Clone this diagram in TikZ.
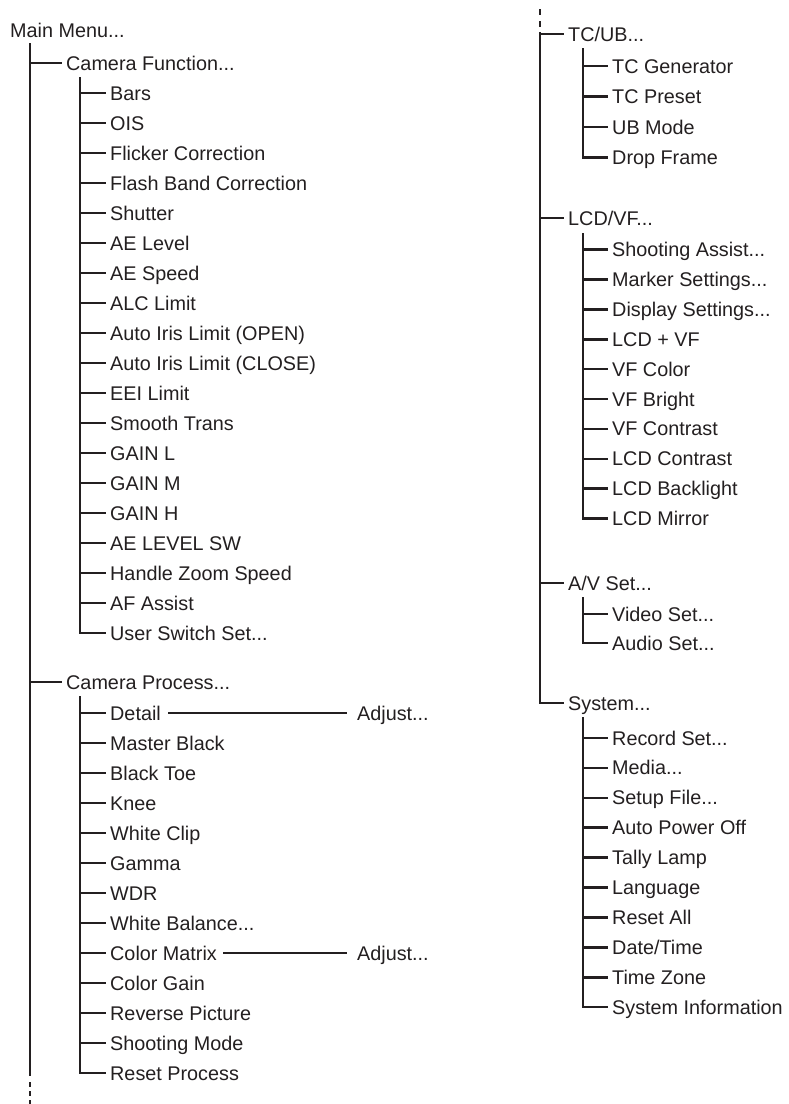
\documentclass[tikz,border=0pt]{standalone}
\usepackage{fontspec}
\setmainfont{Liberation Sans}
\usetikzlibrary{calc}
\definecolor{mnink}{RGB}{35,31,32}
\newcommand{\mnLW}{2.6pt}
\tikzset{
  mline/.style  ={draw=mnink,line width=\mnLW},
  mdots/.style  ={mline,dash pattern=on 5pt off 4pt},
  rdots/.style  ={mline,dash pattern=on 6pt off 6pt},
  mitem/.style  ={anchor=west,inner xsep=4pt,inner ysep=0pt,text height=14pt,text depth=0pt,
                  text=mnink,font=\fontsize{19.8}{23}\selectfont},
  adjlab/.style ={mitem,inner xsep=10pt},
}
% one menu entry: name, spine, x, y, text
\newcommand{\mnItem}[5]{%
  \node[mitem] (#1) at (#3,#4) {#5};
  \draw[mline] (#2 |- #1.west) -- (#1.west);
}

\begin{document}
\begin{tikzpicture}[x=1pt,y=-1pt]
  \useasboundingbox (0,0) rectangle (788,1104);
  % left column
  \node[mitem] (mm) at (6,30) {Main Menu...};
  \coordinate (mTop)  at (30,43);
  \coordinate (mBot)  at (30,1076);
  \coordinate (mDotA) at (30,1082);
  \coordinate (mDotB) at (30,1104);
  \draw[mline] (mTop) -- (mBot);
  \draw[mdots] (mDotA) -- (mDotB);
  \mnItem{cf}{mTop}{62}{63}{Camera Function...}
  \coordinate (cfTop) at (80,77);
  \mnItem{bars}{cfTop}{106}{93}{Bars}
  \mnItem{ois}{cfTop}{106}{123}{OIS}
  \mnItem{flick}{cfTop}{106}{153}{Flicker Correction}
  \mnItem{flash}{cfTop}{106}{183}{Flash Band Correction}
  \mnItem{shut}{cfTop}{106}{213}{Shutter}
  \mnItem{aelv}{cfTop}{106}{243}{AE Level}
  \mnItem{aesp}{cfTop}{106}{273}{AE Speed}
  \mnItem{alc}{cfTop}{106}{303}{ALC Limit}
  \mnItem{irisO}{cfTop}{106}{333}{Auto Iris Limit (OPEN)}
  \mnItem{irisC}{cfTop}{106}{363}{Auto Iris Limit (CLOSE)}
  \mnItem{eei}{cfTop}{106}{393}{EEI Limit}
  \mnItem{smooth}{cfTop}{106}{423}{Smooth Trans}
  \mnItem{gainL}{cfTop}{106}{453}{GAIN L}
  \mnItem{gainM}{cfTop}{106}{483}{GAIN M}
  \mnItem{gainH}{cfTop}{106}{513}{GAIN H}
  \mnItem{aesw}{cfTop}{106}{543}{AE LEVEL SW}
  \mnItem{hzoom}{cfTop}{106}{573}{Handle Zoom Speed}
  \mnItem{afa}{cfTop}{106}{603}{AF Assist}
  \mnItem{usw}{cfTop}{106}{633}{User Switch Set...}
  \draw[mline] (cfTop) |- (usw.west);
  \mnItem{cp}{mTop}{62}{682}{Camera Process...}
  \coordinate (cpTop) at (80,696);
  \mnItem{detail}{cpTop}{106}{713}{Detail}
  \mnItem{mblk}{cpTop}{106}{743}{Master Black}
  \mnItem{btoe}{cpTop}{106}{773}{Black Toe}
  \mnItem{knee}{cpTop}{106}{803}{Knee}
  \mnItem{wclip}{cpTop}{106}{833}{White Clip}
  \mnItem{gamma}{cpTop}{106}{863}{Gamma}
  \mnItem{wdr}{cpTop}{106}{893}{WDR}
  \mnItem{wbal}{cpTop}{106}{923}{White Balance...}
  \mnItem{cmat}{cpTop}{106}{953}{Color Matrix}
  \mnItem{cgain}{cpTop}{106}{983}{Color Gain}
  \mnItem{rev}{cpTop}{106}{1013}{Reverse Picture}
  \mnItem{smode}{cpTop}{106}{1043}{Shooting Mode}
  \mnItem{rproc}{cpTop}{106}{1073}{Reset Process}
  \draw[mline] (cpTop) |- (rproc.west);
  \node[adjlab] (adjDt) at (347,713) {Adjust...};
  \node[adjlab] (adjCm) at (347,953) {Adjust...};
  \draw[mline,shorten <=3pt] (detail.east) -- (adjDt.west);
  \draw[mline,shorten <=2pt] (cmat.east) -- (adjCm.west);
  % right column
  \coordinate (rDotA) at (540,9);
  \coordinate (rDotB) at (540,27);
  \coordinate (rTop)  at (540,32);
  \draw[rdots] (rDotA) -- (rDotB);
  \mnItem{tcub}{rTop}{564}{34}{TC/UB...}
  \coordinate (tcTop) at (583,48);
  \mnItem{tcgen}{tcTop}{608}{66}{TC Generator}
  \mnItem{tcpre}{tcTop}{608}{96.5}{TC Preset}
  \mnItem{ubm}{tcTop}{608}{127}{UB Mode}
  \mnItem{dropf}{tcTop}{608}{157.5}{Drop Frame}
  \draw[mline] (tcTop) |- (dropf.west);
  \mnItem{lcdvf}{rTop}{564}{218}{LCD/VF...}
  \coordinate (lcTop) at (583,233);
  \mnItem{shas}{lcTop}{608}{249.5}{Shooting Assist...}
  \mnItem{mark}{lcTop}{608}{279.4}{Marker Settings...}
  \mnItem{disp}{lcTop}{608}{309.3}{Display Settings...}
  \mnItem{lcdvfx}{lcTop}{608}{339.2}{LCD + VF}
  \mnItem{vfcol}{lcTop}{608}{369.1}{VF Color}
  \mnItem{vfbri}{lcTop}{608}{399}{VF Bright}
  \mnItem{vfcon}{lcTop}{608}{428.9}{VF Contrast}
  \mnItem{lcdcon}{lcTop}{608}{458.8}{LCD Contrast}
  \mnItem{lcdbl}{lcTop}{608}{488.7}{LCD Backlight}
  \mnItem{lcdmir}{lcTop}{608}{518.6}{LCD Mirror}
  \draw[mline] (lcTop) |- (lcdmir.west);
  \mnItem{avset}{rTop}{564}{583}{A/V Set...}
  \coordinate (avTop) at (583,597);
  \mnItem{video}{avTop}{608}{614}{Video Set...}
  \mnItem{audio}{avTop}{608}{643}{Audio Set...}
  \draw[mline] (avTop) |- (audio.west);
  \mnItem{sys}{rTop}{564}{703}{System...}
  \draw[mline] (rTop) |- (sys.west);
  \coordinate (syTop) at (583,717);
  \mnItem{recset}{syTop}{608}{738}{Record Set...}
  \mnItem{media}{syTop}{608}{767.9}{Media...}
  \mnItem{setup}{syTop}{608}{797.8}{Setup File...}
  \mnItem{apoff}{syTop}{608}{827.7}{Auto Power Off}
  \mnItem{tally}{syTop}{608}{857.6}{Tally Lamp}
  \mnItem{lang}{syTop}{608}{887.5}{Language}
  \mnItem{rall}{syTop}{608}{917.4}{Reset All}
  \mnItem{dtime}{syTop}{608}{947.3}{Date/Time}
  \mnItem{tzone}{syTop}{608}{977.2}{Time Zone}
  \mnItem{sinfo}{syTop}{608}{1007.1}{System Information}
  \draw[mline] (syTop) |- (sinfo.west);
\end{tikzpicture}
\end{document}
